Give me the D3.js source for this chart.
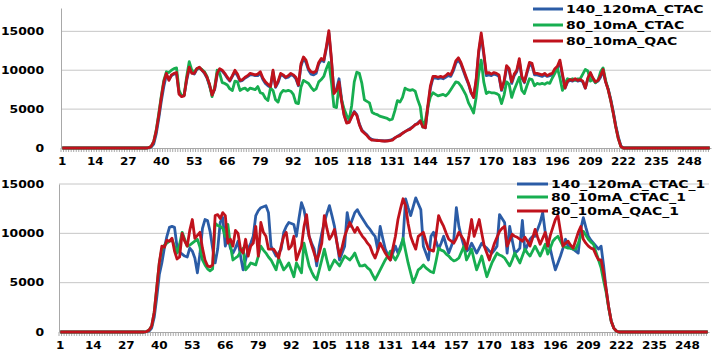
<!DOCTYPE html>
<html>
<head>
<meta charset="utf-8">
<script src="https://cdn.jsdelivr.net/npm/d3@7"></script>
<style>
body { margin: 0; background: #fff; }
svg text { font-family: "DejaVu Sans", Verdana, sans-serif; font-weight: bold; font-size: 10px; fill: #000; }
</style>
</head>
<body>
<div id="chart"></div>
<script>
// categories 1..256 (sample index)
var categories = d3.range(1, 257);
var xTickLabels = [1, 14, 27, 40, 53, 66, 79, 92, 105, 118, 131, 144, 157, 170, 183, 196, 209, 222, 235, 248];
var yTicks = [0, 5000, 10000, 15000];

var topNames = ["140_120mA_CTAC", "80_10mA_CTAC", "80_10mA_QAC"];
var bottomNames = ["140_120mA_CTAC_1", "80_10mA_CTAC_1", "80_10mA_QAC_1"];

// top panel
var top140 = [
0,0,0,0,0,0,0,0,0,0,
0,0,0,0,0,0,0,0,0,0,
0,0,0,0,0,0,0,0,0,0,
0,0,0,0,30,100,500,1800,3800,6000,
7900,9400,8800,9300,9500,9600,7100,6700,6800,8700,
10200,9700,9500,10100,10300,10000,9600,9000,8000,6900,
7500,9400,10100,9900,9500,9000,8600,9200,9800,9300,
8600,8700,9000,9200,9400,9400,9300,9300,9600,8800,
8300,8000,7800,9800,7800,8400,9400,9300,9000,9100,
9400,9300,8900,8000,10500,11500,11000,10000,9500,9400,
9600,10800,11300,11100,12800,14800,11300,7200,7600,8900,
6300,4300,3300,3400,4100,4700,4300,3100,2300,2000,
1700,1300,1100,1000,1000,950,950,900,950,1000,
1100,1300,1500,1700,1900,2100,2300,2500,2700,3000,
3200,3500,2800,2600,5200,7700,9000,9000,8900,9000,
8900,9100,9300,9200,9900,10900,11300,10800,9900,9000,
8200,7100,6500,8600,12200,14400,12000,9300,9400,9300,
9500,9400,9200,7400,8400,10300,10000,8300,9300,9800,
11200,9000,8400,9600,10700,10600,9400,9400,9300,9200,
9400,9200,9300,9400,10000,10300,11000,9300,7700,8500,
8700,8600,8800,8600,8700,8500,7700,8900,9600,8900,
8400,8600,9100,9900,8500,7600,6300,4700,2900,1400,
300,0,0,0,0,0,0,0,0,0,
0,0,0,0,0,0,0,0,0,0,
0,0,0,0,0,0,0,0,0,0,
0,0,0,0,0,0
];
var top80ctac = [
0,0,0,0,0,0,0,0,0,0,
0,0,0,0,0,0,0,0,0,0,
0,0,0,0,0,0,0,0,0,0,
0,0,0,0,50,200,800,2300,4400,6700,
8700,9800,9700,10000,10200,10300,7400,6700,6800,9200,
11100,10000,9800,10200,10300,10100,9800,9200,8100,6600,
7800,10000,9600,8400,8300,8100,7600,7400,8600,8500,
7400,7600,7700,7400,7700,7600,7500,7900,7100,7000,
6400,6100,7700,7400,6200,5900,7000,7400,7300,7400,
7300,6900,5800,5700,7800,8700,8500,8300,7800,7400,
7600,8500,8800,9200,10200,11000,8500,5300,5200,8000,
6200,5000,4200,3600,5500,8500,9750,9600,8300,6200,
6000,5800,4600,4400,4300,4100,4000,3900,3800,3600,
3700,4800,6100,5900,6500,7700,7500,7400,7500,7300,
6200,5300,2700,3500,5300,6600,7100,6900,6700,6800,
6900,6700,7000,7500,8000,8500,8400,8000,7400,6800,
5800,5200,4500,6500,9500,11300,8500,7000,7200,7100,
7100,7000,6800,5700,6800,8500,8200,6500,7500,8300,
9100,7400,7000,8000,8900,8800,8000,8300,8200,8300,
8200,8400,8300,9000,9600,10300,9000,7400,8300,8900,
8800,8900,8700,8900,8900,9500,10100,9900,8600,8800,
8400,8700,9800,10300,8700,7500,6100,4500,2700,1200,
200,0,0,0,0,0,0,0,0,0,
0,0,0,0,0,0,0,0,0,0,
0,0,0,0,0,0,0,0,0,0,
0,0,0,0,0,0
];
var top80qac = [
0,0,0,0,0,0,0,0,0,0,
0,0,0,0,0,0,0,0,0,0,
0,0,0,0,0,0,0,0,0,0,
0,0,0,0,50,200,800,2200,4200,6500,
8500,9600,8700,9400,9600,9700,6900,6600,6700,8900,
10400,9600,9600,10200,10400,10000,9700,9100,8200,6800,
7600,9600,10200,10000,9600,9100,8700,9300,10000,9500,
8700,8800,9100,9300,9600,9500,9400,9500,9800,9000,
8500,8200,7900,10000,7900,8600,9600,9400,9100,9300,
9600,9400,9100,8100,10800,11700,11300,10200,9800,9700,
9900,11000,11500,11300,13000,15100,11500,7000,7400,8500,
6000,4200,3200,3300,4000,4600,4200,3000,2200,1900,
1600,1200,1000,1000,950,950,900,900,900,950,
1000,1300,1500,1600,1900,2100,2300,2400,2700,3000,
3100,3500,2700,2600,5500,8000,9200,9200,9100,9200,
9100,9300,9600,9400,10200,11200,11600,11000,10100,9200,
8300,7200,6500,8800,12500,14800,12300,9600,9700,9500,
9700,9600,9400,7500,8600,10600,10200,8500,9500,10000,
11500,9200,8500,9800,11000,10900,9600,9600,9500,9400,
9600,9300,9500,9600,10200,10500,11300,9500,7700,8600,
8800,8700,8900,8700,8800,8600,7700,9000,9700,9000,
8500,8700,9300,10100,8500,7500,6100,4500,2700,1200,
200,0,0,0,0,0,0,0,0,0,
0,0,0,0,0,0,0,0,0,0,
0,0,0,0,0,0,0,0,0,0,
0,0,0,0,0,0
];

// bottom panel
var bot140 = [
0,0,0,0,0,0,0,0,0,0,
0,0,0,0,0,0,0,0,0,0,
0,0,0,0,0,0,0,0,0,0,
0,0,0,0,30,100,400,1500,3500,5800,
7000,8500,9700,10600,10700,10600,8600,8100,7900,7700,
7600,8500,8200,7500,6000,7900,10500,11400,11300,10200,
8500,7000,8400,11100,11600,8700,9700,8500,8000,8500,
9200,7700,6300,7300,8400,9000,9700,11800,12300,12600,
12700,12800,12100,8700,8200,7700,8000,8400,10100,10700,
11100,11000,10900,9700,11500,13100,12400,11000,9700,9000,
8400,6700,8700,10000,11100,12000,12800,11800,10700,9000,
7300,8000,8700,12100,10700,11400,12100,12400,11900,11500,
11100,10700,10400,10000,9700,8400,10700,9500,8400,7800,
7300,8000,8700,8000,8700,9400,13500,12600,11800,12700,
13600,13000,12400,8700,8000,7300,9700,10100,9200,8400,
9000,9700,8800,8000,8700,9400,12600,10700,9600,8700,
8200,8400,9000,8500,8000,8500,9000,8700,8500,8200,
8000,8300,8700,11900,11500,11100,8000,10700,9300,8000,
8200,8500,11300,8200,8800,9400,9700,9700,10400,11100,
12100,10100,9200,8400,7300,6300,7000,7700,8500,9400,
8700,8500,8400,8200,8000,10400,11600,10600,9700,9300,
9000,8700,8400,8700,6700,4300,2500,1100,400,100,
0,0,0,0,0,0,0,0,0,0,
0,0,0,0,0,0,0,0,0,0,
0,0,0,0,0,0,0,0,0,0,
0,0,0,0,0,0
];
var bot80ctac = [
0,0,0,0,0,0,0,0,0,0,
0,0,0,0,0,0,0,0,0,0,
0,0,0,0,0,0,0,0,0,0,
0,0,0,0,50,200,600,2000,4500,7000,
8400,8800,9000,9200,9400,8700,8000,8900,10100,9400,
8700,8800,9000,9200,9400,8600,7300,6800,6400,6200,
6400,11000,10800,10700,10500,9700,10900,8800,7300,7500,
7700,8100,8500,6300,6600,7000,6900,6800,7700,8700,
8300,8000,7600,7300,6800,6300,7500,6900,6300,6600,
7000,6300,5600,7000,6500,6000,9000,7800,6700,6100,
5600,5300,6300,7300,8400,7300,6300,6800,7300,7000,
6700,7200,7700,7500,7300,7600,8000,7300,6700,6700,
6800,6500,6300,5800,5300,5800,6300,6800,7300,7700,
8200,7700,7300,7800,8400,9500,8200,7000,6000,5000,
5600,6300,6500,6800,6500,6300,6100,6000,7200,8500,
8300,8200,7900,7700,7400,7200,7300,7500,8100,8700,
7300,7800,8400,7300,6300,7000,7700,6600,5600,6300,
7000,7500,8000,7800,7700,7500,7100,6700,7300,8000,
7500,7000,7700,8400,8000,7700,8200,8700,8200,7700,
8300,8900,7900,8500,9200,9500,9700,9200,8700,8600,
8500,8500,8400,8400,9000,9700,10200,9800,9400,9100,
8900,8100,7300,6500,5200,4000,2400,1100,400,100,
0,0,0,0,0,0,0,0,0,0,
0,0,0,0,0,0,0,0,0,0,
0,0,0,0,0,0,0,0,0,0,
0,0,0,0,0,0
];
var bot80qac = [
0,0,0,0,0,0,0,0,0,0,
0,0,0,0,0,0,0,0,0,0,
0,0,0,0,0,0,0,0,0,0,
0,0,0,0,50,200,600,2000,4500,7000,
8700,8600,9300,9200,9500,8200,7400,7600,10000,9200,
8700,10300,11400,9500,9800,10100,8500,7300,6700,6600,
6800,11800,11900,11500,12100,11800,9000,9400,8700,10300,
10000,8400,8000,9400,7700,8700,9000,10700,7700,11100,
10100,9700,8400,8400,8400,8000,7500,8700,9700,10100,
8400,8700,9700,7300,8000,8700,10700,11900,9700,8800,
8000,7200,8000,9000,11800,10500,9400,9800,10400,9000,
7700,8600,9700,10400,11100,10600,10100,10600,10100,9700,
9400,9000,8700,8000,7500,8200,9000,8500,8000,7600,
7300,8500,9700,11400,12500,13500,12800,11000,9700,9000,
8400,9700,9900,10100,9200,8400,8300,8200,9800,11800,
11200,10700,10000,9400,9200,9000,9500,10100,9700,9300,
8400,9800,11400,9700,10500,11400,10000,8700,8000,7300,
8200,9000,9600,10200,10500,10700,8700,9300,9900,9700,
9600,9400,9200,9600,9200,8700,9500,10400,9600,8900,
9500,10100,8700,9800,10600,11400,11800,10200,8700,9000,
9200,8800,8500,9300,10100,10700,9400,9000,8700,8500,
8400,7800,7300,7300,6000,4300,2500,1100,400,100,
0,0,0,0,0,0,0,0,0,0,
0,0,0,0,0,0,0,0,0,0,
0,0,0,0,0,0,0,0,0,0,
0,0,0,0,0,0
];

var colors = ["#2b5ca6", "#17ae50", "#c0121c"];

var svg = d3.select("#chart").append("svg")
  .attr("width", 712)
  .attr("height", 351);

var panels = [
  {left: 61, right: 711, top: 8, bottom: 148, ymax: 18000, labelGap: 17,
   series: [top140, top80ctac, top80qac], names: topNames,
   legend: {x1: 533, x2: 563, tx: 566, ys: [9, 25, 41]}},
  {left: 59, right: 709, top: 184, bottom: 332, ymax: 15000, labelGap: 15,
   series: [bot140, bot80ctac, bot80qac], names: bottomNames,
   legend: {x1: 517, x2: 548, tx: 551, ys: [184, 197, 211]}}
];

panels.forEach(drawPanel);

function drawPanel(p) {
  var x = d3.scaleBand().domain(categories).range([p.left, p.right]);
  var y = d3.scaleLinear().domain([0, p.ymax]).range([p.bottom, p.top]);
  var g = svg.append("g");

  // horizontal gridlines
  g.selectAll("line.grid")
    .data(yTicks.filter(function(d) { return d > 0; }))
    .enter().append("line")
    .attr("class", "grid")
    .attr("x1", p.left).attr("x2", p.right)
    .attr("y1", y).attr("y2", y)
    .attr("stroke", "#c6c6c6").attr("stroke-width", 1);

  // y axis, plain numbers without separators
  var ya = g.append("g")
    .attr("transform", "translate(" + p.left + ",0)")
    .call(d3.axisLeft(y).tickValues(yTicks).tickFormat(d3.format("d")).tickSize(0).tickSizeOuter(0));
  ya.select(".domain").attr("stroke", "#a8a8a8");
  ya.selectAll("text")
    .attr("x", -p.labelGap / 1.24)
    .attr("transform", "scale(1.24,1)");

  // x axis with labels every 13 categories
  var xa = g.append("g")
    .attr("transform", "translate(0," + p.bottom + ")")
    .call(d3.axisBottom(x).tickValues(xTickLabels).tickSize(0).tickSizeOuter(0).tickPadding(10));
  xa.select(".domain").attr("stroke", "#a8a8a8");
  xa.selectAll("text").attr("transform", "scale(1.2,1)");

  // small tick marks between every category
  g.selectAll("line.minor")
    .data(categories)
    .enter().append("line")
    .attr("class", "minor")
    .attr("x1", function(d) { return x(d); })
    .attr("x2", function(d) { return x(d); })
    .attr("y1", p.bottom).attr("y2", p.bottom + 4)
    .attr("stroke", "#a8a8a8").attr("stroke-width", 1);

  var line = d3.line()
    .x(function(d, i) { return x(categories[i]) + x.bandwidth() / 2; })
    .y(function(d) { return y(d); });

  p.series.forEach(function(s, k) {
    g.append("path")
      .datum(s)
      .attr("d", line)
      .attr("fill", "none")
      .attr("stroke", colors[k])
      .attr("stroke-width", 2.8)
      .attr("stroke-linejoin", "round");
  });

  // legend
  var lg = g.append("g");
  p.names.forEach(function(name, k) {
    var ly = p.legend.ys[k];
    lg.append("line")
      .attr("x1", p.legend.x1).attr("x2", p.legend.x2)
      .attr("y1", ly).attr("y2", ly)
      .attr("stroke", colors[k]).attr("stroke-width", 3);
    lg.append("text")
      .attr("transform", "translate(" + p.legend.tx + "," + (ly + 3.5) + ") scale(1.4,1)")
      .text(name);
  });
}
</script>
</body>
</html>
